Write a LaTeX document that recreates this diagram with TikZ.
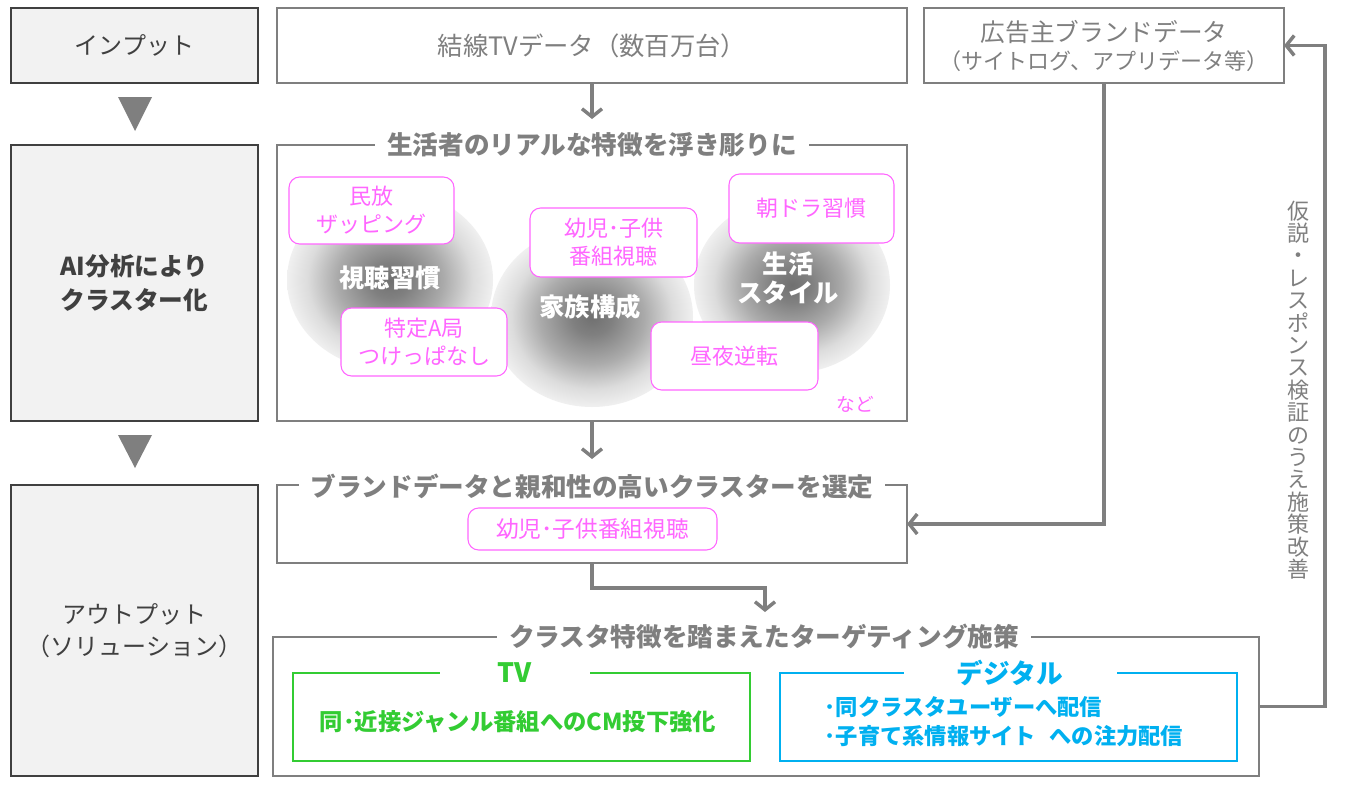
\documentclass[tikz,border=0pt]{standalone}
\usepackage{fontspec}
\setmainfont{Noto Sans CJK JP}
\usetikzlibrary{arrows.meta}
\definecolor{lg}{HTML}{7F7F7F}
\definecolor{dg}{HTML}{404040}
\definecolor{pk}{HTML}{FF66FF}
\definecolor{gr}{HTML}{33CC33}
\definecolor{bl}{HTML}{00B0F0}
\definecolor{boxfill}{HTML}{F2F2F2}
\definecolor{sa}{HTML}{707070}
\definecolor{sb}{HTML}{808080}
\definecolor{sc}{HTML}{ABABAB}
\definecolor{sd}{HTML}{DCDCDC}
\definecolor{se}{HTML}{F0F0F0}
\pgfdeclareradialshading{blob}{\pgfpoint{0bp}{0bp}}{color(0bp)=(sa); color(5bp)=(sb); color(13bp)=(sc); color(20bp)=(sd); color(25bp)=(se); color(50bp)=(se)}
\tikzset{
  leftbox/.style={draw=dg, fill=boxfill, line width=0.8pt, inner sep=0pt, outer sep=0pt, text=dg, align=center, font=\fontsize{18}{24}\selectfont},
  frame/.style={draw=lg, line width=0.9pt, fill=white, inner sep=0pt, outer sep=0pt},
  ftitle/.style={fill=white, text=lg, font=\fontsize{19.2}{22}\selectfont\bfseries, inner xsep=9pt, inner ysep=1pt},
  pbox/.style={draw=pk, fill=white, rounded corners=8pt, line width=0.8pt, text=pk, align=center, inner sep=0pt, font=\fontsize{16.5}{21}\selectfont},
  blabel/.style={text=white, align=center, font=\fontsize{19}{22}\selectfont\bfseries},
  conn/.style={draw=lg, line width=2.6pt},
  arr/.style={conn, -{Straight Barb[length=6pt, width=15pt]}},
  tri/.style={fill=lg}
}
\begin{document}
\begin{tikzpicture}[x=0.75pt, y=-0.75pt]
\path[use as bounding box] (0,0) rectangle (1345,785);

% left column
\node[leftbox, minimum width=247*0.75pt, minimum height=75*0.75pt] (inp) at (134.5,45.5) {インプット};
\node[leftbox, minimum width=247*0.75pt, minimum height=276*0.75pt, font=\fontsize{18.5}{25}\selectfont\bfseries] (ai) at (134.5,283) {AI分析により\\クラスター化};
\node[leftbox, minimum width=247*0.75pt, minimum height=291*0.75pt] (out) at (134.5,630.5) {アウトプット\\（ソリューション）};
\fill[tri] (118,97) -- (152,97) -- (135,131) -- cycle;
\fill[tri] (118,435) -- (152,435) -- (135,468) -- cycle;

% top boxes
\node[frame, minimum width=630*0.75pt, minimum height=75*0.75pt, text=lg, font=\fontsize{19}{24}\selectfont] (tv) at (592,45.5) {結線TVデータ（数百万台）};
\node[frame, minimum width=360*0.75pt, minimum height=75*0.75pt, text=lg, align=center, font=\fontsize{18.5}{22}\selectfont] (adv) at (1104,45.5) {広告主ブランドデータ\\[-1pt]{\fontsize{16.5}{20}\selectfont（サイトログ、アプリデータ等）}};

% life frame
\node[frame, minimum width=630*0.75pt, minimum height=276*0.75pt] (life) at (592,283) {};
\shade[shading=blob] (390,280) ellipse [x radius=103, y radius=90];
\shade[shading=blob] (792,285) ellipse [x radius=98, y radius=88];
\shade[shading=blob] (592,317) ellipse [x radius=101, y radius=90];
\node[blabel] (l1) at (390,278) {視聴習慣};
\node[blabel] (l2) at (590,307) {家族構成};
\node[blabel] (l3) at (788,278) {生活\\スタイル};
\node[pbox, minimum width=165*0.75pt, minimum height=67*0.75pt] (p1) at (371.5,210.5) {民放\\ザッピング};
\node[pbox, minimum width=167*0.75pt, minimum height=69*0.75pt] (p2) at (613.5,242.5) {幼児･子供\\番組視聴};
\node[pbox, minimum width=165*0.75pt, minimum height=69*0.75pt] (p3) at (811.5,208.5) {朝ドラ習慣};
\node[pbox, minimum width=166*0.75pt, minimum height=68*0.75pt] (p4) at (424,342) {特定A局\\つけっぱなし};
\node[pbox, minimum width=167*0.75pt, minimum height=68*0.75pt] (p5) at (734.5,356) {昼夜逆転};
\node[text=pk, font=\fontsize{14}{16}\selectfont] (etc) at (855,404) {など};
\node[ftitle] (lifet) at (592,145) {生活者のリアルな特徴を浮き彫りに};

% brand frame
\node[frame, minimum width=630*0.75pt, minimum height=78*0.75pt] (brand) at (592,524) {};
\node[ftitle] (brandt) at (592,487) {ブランドデータと親和性の高いクラスターを選定};
\node[pbox, minimum width=249*0.75pt, minimum height=42*0.75pt, font=\fontsize{17}{20}\selectfont] (p6) at (592.5,529) {幼児･子供番組視聴};

% plan frame
\node[frame, minimum width=986*0.75pt, minimum height=139*0.75pt] (plan) at (766,706.5) {};
\node[ftitle] (plant) at (764,637) {クラスタ特徴を踏まえたターゲティング施策};
\node[draw=gr, line width=0.8pt, inner sep=0pt, minimum width=457*0.75pt, minimum height=88*0.75pt] (tvb) at (521.5,717) {};
\node[draw=bl, line width=0.8pt, inner sep=0pt, minimum width=457*0.75pt, minimum height=88*0.75pt] (dig) at (1008.5,717) {};
\node[fill=white, text=gr, font=\fontsize{20}{24}\selectfont\bfseries, minimum width=150*0.75pt, inner ysep=1pt] (tvt) at (515,673) {TV};
\node[fill=white, text=bl, font=\fontsize{20}{24}\selectfont\bfseries, minimum width=213*0.75pt, inner ysep=1pt] (digt) at (1010,673) {デジタル};
\node[text=gr, font=\fontsize{17.5}{22}\selectfont\bfseries] (tvtxt) at (518,722) {同･近接ジャンル番組へのCM投下強化};
\node[text=bl, anchor=west, align=left, font=\fontsize{16.7}{21.75}\selectfont\bfseries] (digtxt) at (820,722) {･同クラスタユーザーへ配信\\･子育て系情報サイト\kern0.6em への注力配信};

% connectors
\coordinate (lifein) at (592,119);
\coordinate (brandin) at (592,459);
\coordinate (planin) at (765,612);
\coordinate (fbx) at (1325,706.5);
\draw[arr] (tv.south) -- (lifein);
\draw[arr] (life.south) -- (brandin);
\draw[arr] (brand.south) -- ++(0,25) -| (planin);
\draw[arr] (adv.south) |- (brand.east);
\draw[arr] (plan.east) -- (fbx) |- (adv.east);

% vertical label
\node[text=lg, align=center, font=\fontsize{16.5}{16.8}\selectfont] (fb) at (1298,390) {仮\\説\\・\\レ\\ス\\ポ\\ン\\ス\\検\\証\\の\\う\\え\\施\\策\\改\\善};
\end{tikzpicture}
\end{document}
